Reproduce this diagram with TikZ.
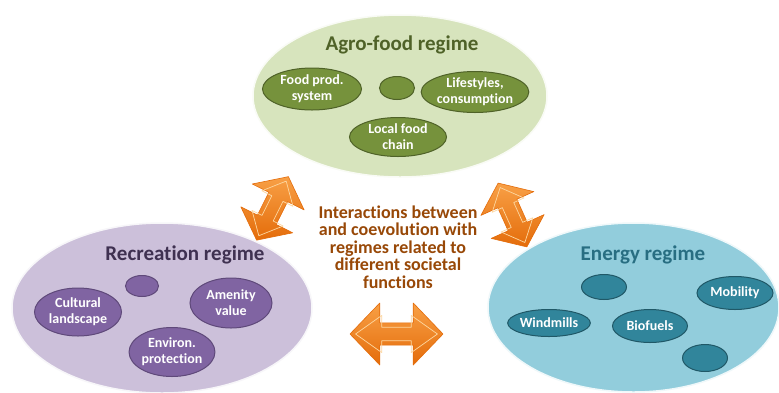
\documentclass[tikz,border=0pt]{standalone}
\usepackage{fontspec}
\setmainfont{Carlito}[Ligatures=NoCommon]
\usetikzlibrary{shapes.geometric}
\definecolor{agroBg}{RGB}{215,228,189}
\definecolor{agroIn}{RGB}{118,146,60}
\definecolor{agroLn}{RGB}{79,98,40}
\definecolor{recBg}{RGB}{204,192,218}
\definecolor{recIn}{RGB}{128,100,162}
\definecolor{recLn}{RGB}{95,73,122}
\definecolor{recTx}{RGB}{63,49,81}
\definecolor{enBg}{RGB}{146,205,220}
\definecolor{enIn}{RGB}{49,133,155}
\definecolor{enLn}{RGB}{32,88,103}
\definecolor{enTx}{RGB}{40,110,130}
\definecolor{midTx}{RGB}{152,72,7}
\definecolor{arLight}{RGB}{248,160,70}
\definecolor{arDark}{RGB}{228,108,10}
\definecolor{arLine}{RGB}{253,215,160}
\newcommand{\dblarrowshape}{(-0.5,0) -- (-0.5+0.32,1) -- (-0.5+0.32,0.36) -- (0.5-0.32,0.36) -- (0.5-0.32,1) -- (0.5,0) -- (0.5-0.32,-1) -- (0.5-0.32,-0.36) -- (-0.5+0.32,-0.36) -- (-0.5+0.32,-1) -- cycle}
\tikzset{
  bigell/.style={ellipse, inner sep=0pt},
  smallell/.style={ellipse, inner sep=0pt, line width=1pt, text=white, font=\bfseries\fontsize{14}{16}\selectfont, align=center},
  title/.style={font=\bfseries\fontsize{21}{24}\selectfont},
  arrowbody/.style={top color=arLight, bottom color=arDark, draw=arDark, line width=0.6pt, line join=round},
  arrowinner/.style={draw=arLine, line width=0.7pt, line join=round},
}
\begin{document}
\begin{tikzpicture}[x=1pt,y=-1pt]
\useasboundingbox (0,0) rectangle (779,392);
\clip (0,0) rectangle (779,392);
\fill[white] (0,0) rectangle (779,392);

% Agro-food regime
\node[bigell, fill=agroBg, draw=white!85!agroBg, line width=1.5pt, minimum width=294pt, minimum height=162pt] (agro) at (400,96) {};
\node[title, text=agroLn] (agrot) at (402,45) {Agro-food regime};
\node[smallell, fill=agroIn, draw=agroLn, minimum width=99pt, minimum height=42pt] (food) at (312,89) {Food prod.\\system};
\node[smallell, fill=agroIn, draw=agroLn, minimum width=35pt, minimum height=23pt] (agros) at (397,88) {};
\node[smallell, fill=agroIn, draw=agroLn, minimum width=94pt, minimum height=41pt] (life) at (475,92) {Lifestyles,\\consumption};
\node[smallell, fill=agroIn, draw=agroLn, minimum width=97pt, minimum height=39pt] (local) at (398,137) {Local food\\chain};

% Recreation regime
\node[bigell, fill=recBg, draw=white!85!recBg, line width=1.5pt, minimum width=300pt, minimum height=170pt] (rec) at (162,308) {};
\node[title, text=recTx] (rect) at (185,255) {Recreation regime};
\node[smallell, fill=recIn, draw=recLn, minimum width=33pt, minimum height=21pt] (recs) at (142,286) {};
\node[smallell, fill=recIn, draw=recLn, minimum width=87pt, minimum height=48pt] (cult) at (78,312) {Cultural\\landscape};
\node[smallell, fill=recIn, draw=recLn, minimum width=82pt, minimum height=50pt] (amen) at (231,303) {Amenity\\value};
\node[smallell, fill=recIn, draw=recLn, minimum width=83pt, minimum height=49pt] (envi) at (172,352) {Environ.\\protection};

% Energy regime
\node[bigell, fill=enBg, draw=white!85!enBg, line width=1.5pt, minimum width=291pt, minimum height=169pt] (en) at (633.5,307.5) {};
\node[title, text=enTx] (ent) at (643,255) {Energy regime};
\node[smallell, fill=enIn, draw=enLn, minimum width=45pt, minimum height=25pt] (ens1) at (604,287) {};
\node[smallell, fill=enIn, draw=enLn, minimum width=76pt, minimum height=33pt] (mob) at (735,293) {Mobility};
\node[smallell, fill=enIn, draw=enLn, minimum width=75pt, minimum height=27pt] (wind) at (549,323) {Windmills};
\node[smallell, fill=enIn, draw=enLn, minimum width=75pt, minimum height=33pt] (bio) at (650,326) {Biofuels};
\node[smallell, fill=enIn, draw=enLn, minimum width=45pt, minimum height=27pt] (ens2) at (705,358) {};

% Centre text
\node[font=\bfseries\fontsize{18}{17.5}\selectfont, text=midTx, align=center] (mid) at (398,247) {Interactions between\\and coevolution with\\regimes related to\\different societal\\functions};

% Double arrows
\begin{scope}[shift={(272.5,208.4)}, rotate=63.4, xscale=71, yscale=29]
  \path[arrowbody] \dblarrowshape;
  \draw[arrowinner, xscale=0.86, yscale=0.6] \dblarrowshape;
\end{scope}
\begin{scope}[shift={(512.5,215)}, rotate=-65.8, xscale=70, yscale=29]
  \path[arrowbody] \dblarrowshape;
  \draw[arrowinner, xscale=0.86, yscale=0.6] \dblarrowshape;
\end{scope}
\begin{scope}[shift={(396.5,334)}, xscale=93, yscale=31]
  \path[arrowbody] \dblarrowshape;
  \draw[arrowinner, xscale=0.88, yscale=0.6] \dblarrowshape;
\end{scope}
\end{tikzpicture}
\end{document}
